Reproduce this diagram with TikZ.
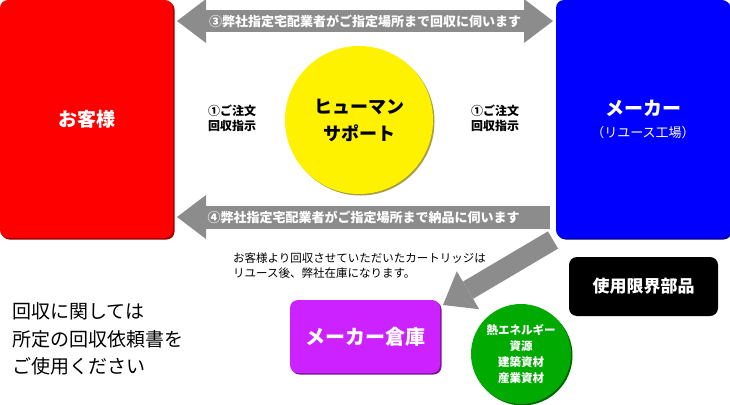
\documentclass[tikz,border=0pt]{standalone}
\usepackage{fontspec}
\setmainfont{Noto Sans CJK JP}
\usetikzlibrary{arrows.meta, positioning}
\definecolor{arrowgray}{HTML}{8C8C8C}
\definecolor{warepurple}{HTML}{CC22FF}
\definecolor{recyclegreen}{HTML}{00AA00}
\tikzset{
  box/.style={rectangle,rounded corners=8pt,align=center,text=white,inner sep=2pt},
  ball/.style={circle,align=center,inner sep=0pt},
  bevel/.style={preaction={fill=#1!60!black,transform canvas={xshift=1.5pt,yshift=-1.5pt}},fill=#1},
  memo/.style={align=left,inner sep=0pt},
  bigarrow/.style={draw=arrowgray,line width=#1,>={Triangle[length=29pt,width=44pt,line width=0pt]}},
  arrowtext/.style={text=white,font=\bfseries\fontsize{13}{13}\selectfont,inner sep=0pt}
}

\begin{document}
\begin{tikzpicture}[x=1pt,y=-1pt]
\useasboundingbox (0,0) rectangle (730,404);
% free ends of the block arrows
\coordinate (t3l) at (177,21);
\coordinate (t3r) at (553,21);
\coordinate (b4r) at (550,217);
\coordinate (b4l) at (177,217);
\coordinate (dtail) at (553,240);
\coordinate (dtip) at (443,305);
\draw[bigarrow=22pt, <->] (t3l) -- (t3r) node[midway, arrowtext] {③弊社指定宅配業者がご指定場所まで回収に伺います};
\draw[bigarrow=23pt, ->] (b4r) -- (b4l) node[midway, arrowtext] {④弊社指定宅配業者がご指定場所まで納品に伺います};
\draw[bigarrow=20pt, ->] (dtail) -- (dtip);
\node[box, bevel=red, minimum width=173pt, minimum height=238pt, font=\bfseries\fontsize{19}{19}\selectfont] (client) at (86.5,119) {お客様};
\node[box, bevel=blue, minimum width=174pt, minimum height=238pt, font=\fontsize{13}{22}\selectfont] (maker) at (643,119) {{\bfseries\fontsize{19}{22}\selectfont メーカー}\\（リユース工場）};
\node[ball, bevel=yellow, minimum size=148pt, font=\bfseries\fontsize{18}{27}\selectfont] (support) at (359,120) {ヒューマン\\サポート};
\node[align=center, inner sep=0pt, font=\bfseries\fontsize{12}{15}\selectfont] (order1) at (232,118) {①ご注文\\回収指示};
\node[align=center, inner sep=0pt, font=\bfseries\fontsize{12}{15}\selectfont] (order2) at (495,118) {①ご注文\\回収指示};
\node[memo, anchor=west, font=\fontsize{11.5}{15}\selectfont] (note) at (233,266) {お客様より回収させていただいたカートリッジは\\リユース後、弊社在庫になります。};
\node[memo, anchor=west, font=\fontsize{19}{27.5}\selectfont] (guide) at (12,339) {回収に関しては\\所定の回収依頼書を\\ご使用ください};
\node[box, bevel=warepurple, minimum width=150pt, minimum height=73pt, font=\bfseries\fontsize{20}{20}\selectfont] (warehouse) at (365,336.5) {メーカー倉庫};
\node[box, fill=black, minimum width=149pt, minimum height=59pt, font=\bfseries\fontsize{17}{17}\selectfont] (limit) at (643.5,286.5) {使用限界部品};
\node[ball, bevel=recyclegreen, text=white, minimum size=100pt, font=\bfseries\fontsize{11.5}{16}\selectfont] (recycle) at (521,354) {熱エネルギー\\資源\\建築資材\\産業資材};
\end{tikzpicture}
\end{document}
